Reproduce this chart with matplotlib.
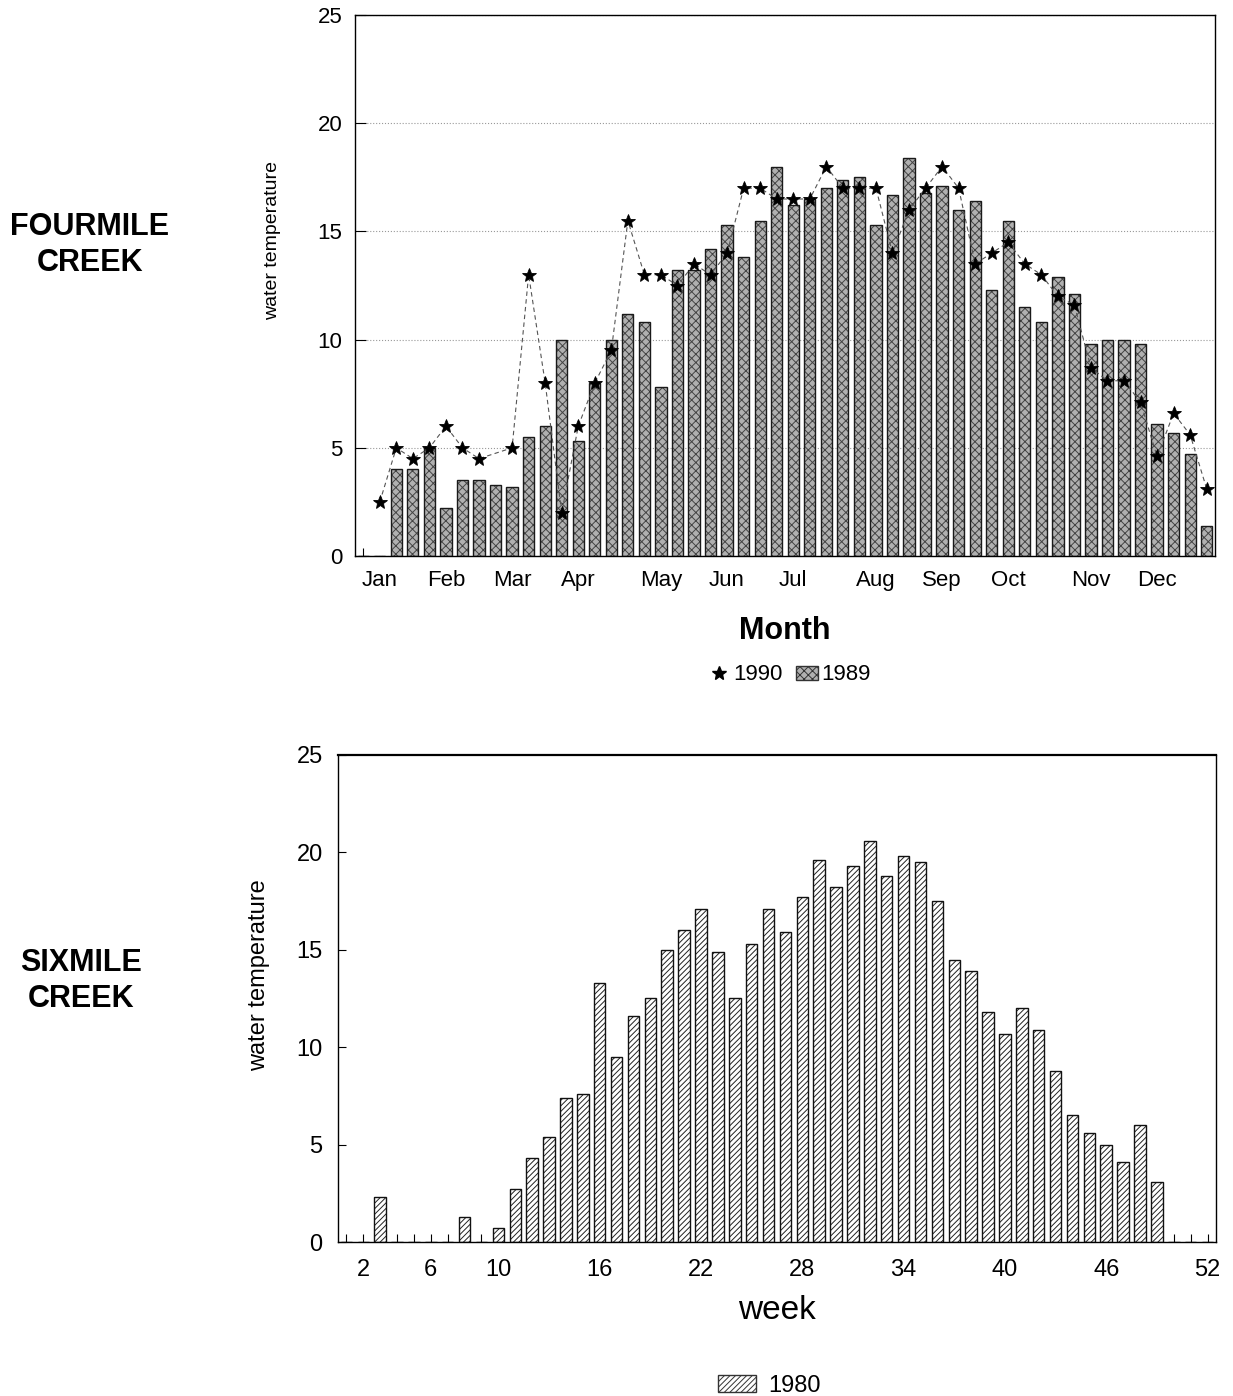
import numpy as np
import matplotlib
matplotlib.use("Agg")
import matplotlib.pyplot as plt
from matplotlib.lines import Line2D
from matplotlib.patches import Patch

plt.rcParams['font.family'] = ['Liberation Sans', 'DejaVu Sans']
plt.rcParams['hatch.linewidth'] = 0.7

# Fourmile Creek, weekly slots 0..51
fm_1989 = [0, 0, 4.0, 4.0, 5.0, 2.2, 3.5, 3.5, 3.3, 3.2, 5.5, 6.0, 10.0, 5.3, 8.0, 10.0,
           11.2, 10.8, 7.8, 13.2, 13.2, 14.2, 15.3, 13.8, 15.5, 18.0, 16.2, 16.5, 17.0, 17.4,
           17.5, 15.3, 16.7, 18.4, 16.8, 17.1, 16.0, 16.4, 12.3, 15.5, 11.5, 10.8, 12.9, 12.1,
           9.8, 10.0, 10.0, 9.8, 6.1, 5.7, 4.7, 1.4]
fm_1990 = [np.nan, 2.5, 5.0, 4.5, 5.0, 6.0, 5.0, 4.5, np.nan, 5.0, 13.0, 8.0, 2.0, 6.0, 8.0, 9.5,
           15.5, 13.0, 13.0, 12.5, 13.5, 13.0, 14.0, 17.0, 17.0, 16.5, 16.5, 16.5, 18.0, 17.0,
           17.0, 17.0, 14.0, 16.0, 17.0, 18.0, 17.0, 13.5, 14.0, 14.5, 13.5, 13.0, 12.0, 11.6,
           8.7, 8.1, 8.1, 7.1, 4.6, 6.6, 5.6, 3.1]
month_labels = ['Jan', 'Feb', 'Mar', 'Apr', 'May', 'Jun', 'Jul', 'Aug', 'Sep', 'Oct', 'Nov', 'Dec']
month_slots = [1, 5, 9, 13, 18, 22, 26, 31, 35, 39, 44, 48]

# Sixmile Creek, weeks 1..52
weeks = list(range(1, 53))
sm_1980 = [0, 0, 2.3, 0, 0, 0, 0, 1.3, 0, 0.7, 2.7, 4.3, 5.4, 7.4, 7.6, 13.3, 9.5, 11.6,
           12.5, 15.0, 16.0, 17.1, 14.9, 12.5, 15.3, 17.1, 15.9, 17.7, 19.6, 18.2, 19.3, 20.6,
           18.8, 19.8, 19.5, 17.5, 14.5, 13.9, 11.8, 10.7, 12.0, 10.9, 8.8, 6.5, 5.6, 5.0,
           4.1, 6.0, 3.1, 0, 0, 0]
week_ticks = [2, 6, 10, 16, 22, 28, 34, 40, 46, 52]

fig = plt.figure(figsize=(12.33, 13.96), dpi=100)

# ---- top chart ----
ax1 = fig.add_axes([0.2879, 0.6017, 0.6975, 0.3875])
slots = np.arange(len(fm_1989))
ax1.bar(slots, fm_1989, width=0.68, color='#b0b0b0', edgecolor='#444444',
        linewidth=0, hatch='xxxx', zorder=2)
ax1.bar(slots, fm_1989, width=0.68, color='none', edgecolor='#1a1a1a',
        linewidth=1.0, zorder=3)
y90 = np.array(fm_1990)
ok = ~np.isnan(y90)
ax1.plot(slots[ok], y90[ok], linestyle=(0, (4, 3)), color='#555555', linewidth=0.8,
         marker='*', markersize=10, markerfacecolor='black', markeredgecolor='black',
         markeredgewidth=0.6, zorder=4)

ax1.set_xlim(-0.5, len(slots) - 0.5)
ax1.set_ylim(0, 25)
ax1.set_yticks([0, 5, 10, 15, 20, 25])
ax1.yaxis.grid(True, linestyle=':', color='#999999', linewidth=0.8)
ax1.set_axisbelow(True)
ax1.set_xticks(month_slots)
ax1.set_xticklabels(month_labels)
ax1.set_xticks(slots, minor=True)
ax1.tick_params(axis='x', which='major', length=0, labelsize=16, pad=10)
ax1.tick_params(axis='x', which='minor', direction='in', length=6, width=0.8)
ax1.tick_params(axis='y', direction='in', length=8, labelsize=16, pad=9)
ax1.set_ylabel('water temperature', fontsize=14)
ax1.yaxis.set_label_coords(-0.086, 0.584)
ax1.set_xlabel('Month', fontsize=22, fontweight='bold', labelpad=18)
for s in ax1.spines.values():
    s.set_linewidth(1.0)

fig.text(0.073, 0.8245, 'FOURMILE\nCREEK', ha='center', va='center', fontsize=22,
         fontweight='bold', linespacing=1.25)

h1 = [Line2D([], [], linestyle='none', marker='*', markersize=10, markerfacecolor='black',
             markeredgecolor='black'),
      Patch(facecolor='#b0b0b0', edgecolor='#333333', hatch='xxxx')]
fig.legend(h1, ['1990', '1989'], loc='center', bbox_to_anchor=(0.64, 0.5165), ncol=2,
           frameon=False, fontsize=16, handlelength=1.0, handleheight=0.6,
           handletextpad=0.15, columnspacing=0.6)

# ---- bottom chart ----
ax2 = fig.add_axes([0.2741, 0.1103, 0.7121, 0.3489])
ax2.bar(weeks, sm_1980, width=0.68, color='white', edgecolor='#222222', linewidth=0,
        hatch='//////', zorder=2)
ax2.bar(weeks, sm_1980, width=0.68, color='none', edgecolor='#111111', linewidth=1.0,
        zorder=3)
ax2.set_xlim(0.5, 52.5)
ax2.set_ylim(0, 25)
ax2.set_yticks([0, 5, 10, 15, 20, 25])
ax2.set_xticks(week_ticks)
ax2.set_xticks(weeks, minor=True)
ax2.tick_params(axis='x', which='major', direction='in', length=6, labelsize=17, pad=12)
ax2.tick_params(axis='x', which='minor', direction='in', length=6, width=0.8)
ax2.tick_params(axis='y', direction='in', length=6, labelsize=17, pad=11)
ax2.set_ylabel('water temperature', fontsize=17)
ax2.yaxis.set_label_coords(-0.0775, 0.548)
ax2.set_xlabel('week', fontsize=24, labelpad=10)
for s in ax2.spines.values():
    s.set_linewidth(1.0)
ax2.spines['top'].set_linewidth(1.6)

fig.text(0.066, 0.2975, 'SIXMILE\nCREEK', ha='center', va='center', fontsize=22,
         fontweight='bold', linespacing=1.25)

h2 = [Patch(facecolor='white', edgecolor='#333333', hatch='//////')]
fig.legend(h2, ['1980'], loc='center', bbox_to_anchor=(0.624, 0.0075), ncol=1,
           frameon=False, fontsize=17, handlelength=1.6, handletextpad=0.5)

fig.savefig('out.png', dpi=100)
